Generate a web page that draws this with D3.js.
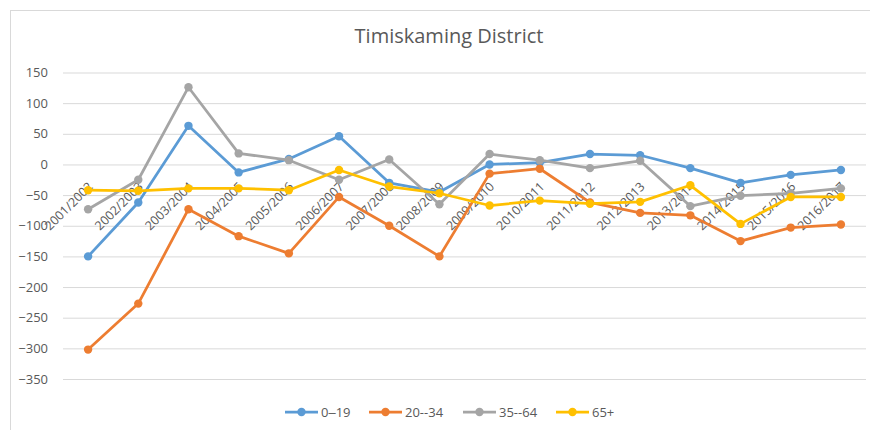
<!DOCTYPE html>
<html lang="en">
<head>
<meta charset="UTF-8">
<title>Timiskaming District</title>
<script src="https://d3js.org/d3.v7.min.js"></script>
<style>
  body { margin: 0; background: #fff; }
  svg text { font-family: "Open Sans", "Liberation Sans", sans-serif; fill: #595959; }
</style>
</head>
<body>
<div id="chart"></div>
<script>
// categories and series values
const years = ["2001/2002", "2002/2003", "2003/2004", "2004/2005", "2005/2006", "2006/2007",
               "2007/2008", "2008/2009", "2009/2010", "2010/2011", "2011/2012", "2012/2013",
               "2013/2014", "2014/2015", "2015/2016", "2016/2017"];
const age0to19  = [-150, -62, 63, -13, 9, 46, -30, -45, 0, 3, 17, 15, -6, -30, -17, -9];
const age20to34 = [-302, -227, -73, -117, -145, -53, -100, -150, -15, -7, -62, -79, -83, -125, -103, -98];
const age35to64 = [-73, -25, 126, 18, 7, -25, 8, -65, 17, 7, -6, 6, -68, -51, -47, -39];
const age65plus = [-42, -43, -39, -39, -42, -9, -36, -47, -67, -59, -64, -61, -34, -97, -53, -53];
const yTicks = [150, 100, 50, 0, -50, -100, -150, -200, -250, -300, -350];

const series = [
  { name: "0\u201219", values: age0to19, color: "#5B9BD5" },
  { name: "20--34", values: age20to34, color: "#ED7D31" },
  { name: "35--64", values: age35to64, color: "#A5A5A5" },
  { name: "65+", values: age65plus, color: "#FFC000" }
];

const width = 870, height = 430;
const plot = { left: 63, right: 866, top: 72.5, bottom: 379 };

const svg = d3.select("#chart").append("svg")
    .attr("width", width)
    .attr("height", height);

// chart frame
svg.append("rect")
    .attr("x", 10.5).attr("y", 10.5)
    .attr("width", width + 10).attr("height", height + 10)
    .attr("fill", "none").attr("stroke", "#d9d9d9");

svg.append("text")
    .attr("x", 449).attr("y", 43)
    .attr("text-anchor", "middle")
    .style("font-size", "20px")
    .text("Timiskaming District");

const x = d3.scalePoint()
    .domain(years)
    .range([plot.left, plot.right])
    .padding(0.5);

const y = d3.scaleLinear()
    .domain([-350, 150])
    .range([plot.bottom, plot.top]);

// gridlines + y labels
const yAxis = svg.append("g")
    .attr("transform", `translate(${plot.left},0)`)
    .call(d3.axisLeft(y).tickValues(yTicks).tickSize(-(plot.right - plot.left)).tickPadding(15));
yAxis.select(".domain").remove();
yAxis.selectAll(".tick line").attr("stroke", "#d9d9d9");
yAxis.selectAll(".tick text").style("font-size", "13px").attr("fill", "#595959");

// category labels sit on the zero line
const xAxis = svg.append("g")
    .attr("transform", `translate(0,${y(0)})`)
    .call(d3.axisBottom(x).tickSize(0));
xAxis.select(".domain").remove();
xAxis.selectAll(".tick text")
    .style("font-size", "12.5px")
    .attr("fill", "#595959")
    .attr("text-anchor", "end")
    .attr("y", 0)
    .attr("dy", 0)
    .attr("transform", "translate(5,23) rotate(-45)");

const line = d3.line()
    .x((d, i) => x(years[i]))
    .y(d => y(d));

series.forEach(s => {
  const g = svg.append("g");
  g.append("path")
      .datum(s.values)
      .attr("fill", "none")
      .attr("stroke", s.color)
      .attr("stroke-width", 2.75)
      .attr("stroke-linejoin", "round")
      .attr("d", line);
  g.selectAll("circle")
      .data(s.values)
      .join("circle")
      .attr("cx", (d, i) => x(years[i]))
      .attr("cy", d => y(d))
      .attr("r", 4.2)
      .attr("fill", s.color);
});

// legend
const legendX = [285, 369, 463, 556];
const legend = svg.append("g").attr("transform", "translate(0,412)");
series.forEach((s, i) => {
  const g = legend.append("g").attr("transform", `translate(${legendX[i]},0)`);
  g.append("line").attr("x1", 0).attr("x2", 33).attr("y1", 0).attr("y2", 0)
      .attr("stroke", s.color).attr("stroke-width", 2.75);
  g.append("circle").attr("cx", 16.5).attr("cy", 0).attr("r", 4.2).attr("fill", s.color);
  g.append("text").attr("x", 36).attr("y", 0).attr("dy", "0.35em")
      .style("font-size", "13px").text(s.name);
});
</script>
</body>
</html>
